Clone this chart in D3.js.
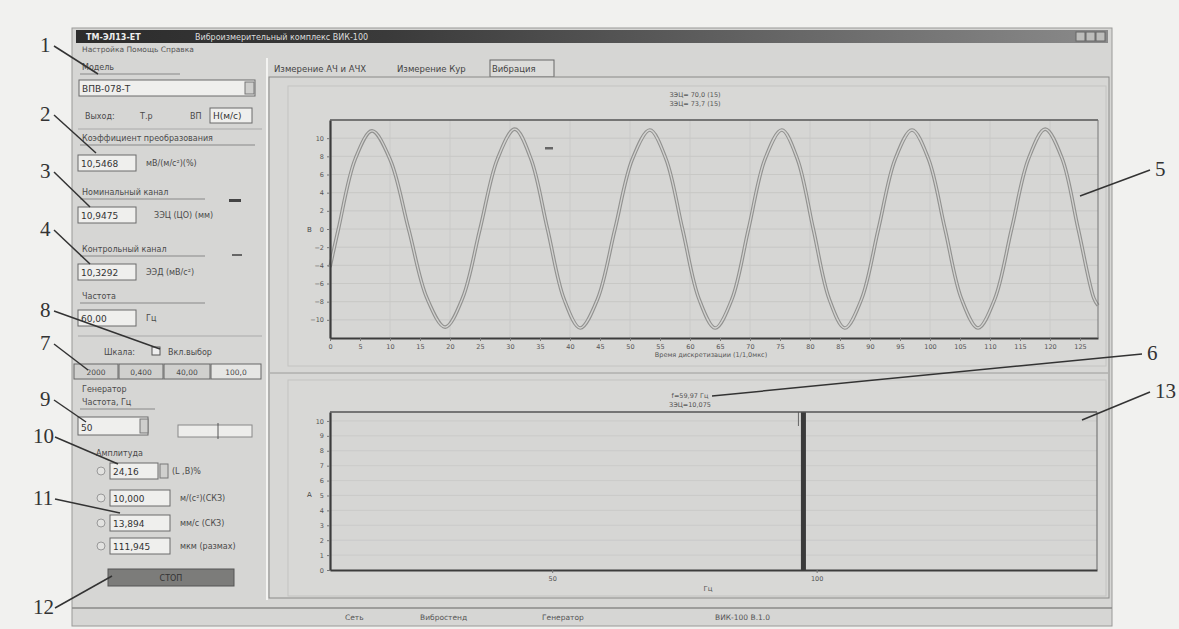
<!DOCTYPE html>
<html>
<head>
<meta charset="utf-8">
<script src="https://cdn.jsdelivr.net/npm/d3@7"></script>
<style>
  body { margin: 0; background: #eeeeec; }
  svg { display: block; font-family: "DejaVu Sans", sans-serif; }
</style>
</head>
<body>
<svg id="scr" width="1179" height="629"></svg>
<script>
// ---- data ----

// upper oscillogram: sample time vs signal (extrema, zero crossings, 0.7-level points)
const traceX = [0, 1.4, 4.2, 7, 10.05, 13.1, 16.15, 19.2, 22.1, 25, 27.9, 30.8, 33.5, 36.25, 39, 41.7,
  44.6, 47.5, 50.4, 53.3, 56, 58.75, 61.5, 64.2, 67, 69.75, 72.5, 75.3, 77.9, 80.55, 83.2, 85.8,
  88.6, 91.4, 94.2, 97, 99.75, 102.5, 105.25, 108, 110.8, 113.6, 116.4, 119.2, 122, 124.7, 127.3, 128];
const traceY = [-4.2, 0, 7.7, 10.8, 7.6, 0, -7.6, -10.8, -7.6, 0, 7.7, 11, 7.7, 0, -7.7, -10.9,
  -7.7, 0, 7.7, 10.9, 7.7, 0, -7.7, -10.9, -7.7, 0, 7.7, 10.9, 7.7, 0, -7.7, -10.9,
  -7.7, 0, 7.7, 10.9, 7.7, 0, -7.7, -10.9, -7.7, 0, 7.7, 11, 7.8, 0, -7.6, -8.4];
const upperXTicks = d3.range(0, 130, 5);
const upperYTicks = [-10, -8, -6, -4, -2, 0, 2, 4, 6, 8, 10];

// lower spectrum: frequency vs amplitude (single line)
const specHz = [97.5];
const specAmp = [10.6];
const lowerXTicks = [50, 100];
const lowerYTicks = [0, 1, 2, 3, 4, 5, 6, 7, 8, 9, 10];

// left panel readings
const fieldValues = ["10,5468", "10,9475", "10,3292", "60,00"];
const fieldUnits = ["мВ/(м/с²)(%)", "ЗЭЦ (ЦО) (мм)", "ЭЭД (мВ/с²)", "Гц"];
const fieldLabels = ["Коэффициент преобразования", "Номинальный канал", "Контрольный канал", "Частота"];
const rangeButtons = ["2000", "0,400", "40,00", "100,0"];
const ampValues = ["24,16", "10,000", "13,894", "111,945"];
const ampUnits = ["(L ,В)%", "м/(с²)(СКЗ)", "мм/с (СКЗ)", "мкм (размах)"];
const tabs = ["Измерение АЧ и АЧХ", "Измерение Кур", "Вибрация"];
const statusItems = ["Сеть", "Вибростенд", "Генератор", "ВИК-100 В.1.0"];

// callout numbers: label, text pos, line end
const callouts = [
  ["1", 40, 52, 98, 74], ["2", 40, 121, 96, 153], ["3", 40, 178, 90, 207],
  ["4", 40, 236, 90, 264], ["8", 40, 317, 160, 349], ["7", 40, 350, 88, 370],
  ["9", 40, 406, 86, 422], ["10", 33, 443, 118, 464], ["11", 33, 505, 120, 513],
  ["12", 33, 614, 112, 576], ["5", 1155, 176, 1080, 196], ["6", 1147, 360, 712, 396],
  ["13", 1155, 398, 1082, 420]
];

const svg = d3.select("#scr");
const ink = "#3c3c3c";

// ---- window frame ----
svg.append("rect").attr("x", 0).attr("y", 0).attr("width", 1179).attr("height", 629).attr("fill", "#f1f1ef");
svg.append("rect").attr("x", 72).attr("y", 28).attr("width", 1040).attr("height", 598)
  .attr("fill", "#d6d6d4").attr("stroke", "#9a9a98");

const grad = svg.append("defs").append("linearGradient").attr("id", "tb");
grad.append("stop").attr("offset", "0%").attr("stop-color", "#2c2c2c");
grad.append("stop").attr("offset", "30%").attr("stop-color", "#3a3a3a");
grad.append("stop").attr("offset", "100%").attr("stop-color", "#8a8a8a");
svg.append("rect").attr("x", 76).attr("y", 30).attr("width", 1032).attr("height", 13).attr("fill", "url(#tb)");
svg.append("text").attr("x", 86).attr("y", 40).attr("fill", "#eee").attr("font-size", 8).attr("font-weight", "bold")
  .text("ТМ-ЭЛ13-ЕТ");
svg.append("text").attr("x", 195).attr("y", 40).attr("fill", "#ddd").attr("font-size", 8)
  .text("Виброизмерительный комплекс ВИК-100");
[1076, 1086, 1096].forEach(x => {
  svg.append("rect").attr("x", x).attr("y", 32).attr("width", 9).attr("height", 9)
    .attr("fill", "#bdbdbb").attr("stroke", "#666");
});
svg.append("text").attr("x", 82).attr("y", 52).attr("fill", "#555").attr("font-size", 7.5)
  .text("Настройка   Помощь   Справка");

// ---- left panel ----
const lp = svg.append("g").attr("fill", "#4a4a4a").attr("font-size", 8);
function box(x, y, w, h, txt) {
  lp.append("rect").attr("x", x).attr("y", y).attr("width", w).attr("height", h)
    .attr("fill", "#efefed").attr("stroke", "#6a6a6a");
  lp.append("text").attr("x", x + 3).attr("y", y + h - 4).attr("font-size", 9).attr("fill", "#333").text(txt);
}
lp.append("text").attr("x", 82).attr("y", 70).text("Модель");
lp.append("line").attr("x1", 80).attr("x2", 180).attr("y1", 74).attr("y2", 74).attr("stroke", "#888");
box(79, 80, 176, 16, "ВПВ-078-Т");
lp.append("rect").attr("x", 245).attr("y", 82).attr("width", 9).attr("height", 12).attr("fill", "#cfcfcd").attr("stroke", "#777");
lp.append("text").attr("x", 85).attr("y", 119).text("Выход:");
lp.append("text").attr("x", 140).attr("y", 119).text("Т.р");
lp.append("text").attr("x", 190).attr("y", 119).text("ВП");
box(210, 108, 42, 15, "Н(м/с)");
lp.append("line").attr("x1", 78).attr("x2", 262).attr("y1", 129).attr("y2", 129).attr("stroke", "#aaa");

const labelY = [141, 195, 252, 299];
const boxY = [155, 207, 264, 310];
fieldValues.forEach((v, i) => {
  lp.append("text").attr("x", 82).attr("y", labelY[i]).text(fieldLabels[i]);
  lp.append("line").attr("x1", 80).attr("x2", i === 0 ? 255 : 205).attr("y1", labelY[i] + 4).attr("y2", labelY[i] + 4).attr("stroke", "#888");
  box(78, boxY[i], 58, 16, v);
  lp.append("text").attr("x", i === 1 ? 154 : 146).attr("y", boxY[i] + 11).text(fieldUnits[i]);
});
lp.append("rect").attr("x", 229).attr("y", 199).attr("width", 12).attr("height", 3).attr("fill", "#444");
lp.append("rect").attr("x", 232).attr("y", 254).attr("width", 10).attr("height", 2).attr("fill", "#666");
lp.append("line").attr("x1", 78).attr("x2", 262).attr("y1", 336).attr("y2", 336).attr("stroke", "#aaa");

lp.append("text").attr("x", 104).attr("y", 355).text("Шкала:");
lp.append("rect").attr("x", 152).attr("y", 347).attr("width", 8).attr("height", 8).attr("fill", "#eee").attr("stroke", "#555");
lp.append("text").attr("x", 168).attr("y", 355).text("Вкл.выбор");
const bw = [44, 44, 46, 50];
let bx = 74;
rangeButtons.forEach((t, i) => {
  lp.append("rect").attr("x", bx).attr("y", 364).attr("width", bw[i]).attr("height", 15)
    .attr("fill", i === 3 ? "#e6e6e4" : "#d0d0ce").attr("stroke", "#666");
  lp.append("text").attr("x", bx + bw[i] / 2).attr("y", 375).attr("text-anchor", "middle").attr("font-size", 7.5).text(t);
  bx += bw[i] + 1;
});
lp.append("text").attr("x", 82).attr("y", 392).text("Генератор");
lp.append("text").attr("x", 82).attr("y", 405).text("Частота, Гц");
lp.append("line").attr("x1", 80).attr("x2", 155).attr("y1", 409).attr("y2", 409).attr("stroke", "#888");
box(78, 417, 70, 18, "50");
lp.append("rect").attr("x", 140).attr("y", 419).attr("width", 8).attr("height", 14).attr("fill", "#cfcfcd").attr("stroke", "#777");
lp.append("rect").attr("x", 178).attr("y", 425).attr("width", 74).attr("height", 12).attr("fill", "#ededeb").attr("stroke", "#888");
lp.append("line").attr("x1", 218).attr("x2", 218).attr("y1", 423).attr("y2", 439).attr("stroke", "#555");
lp.append("text").attr("x", 96).attr("y", 456).text("Амплитуда");

const ampY = [463, 490, 515, 538];
ampValues.forEach((v, i) => {
  const y = ampY[i];
  lp.append("circle").attr("cx", 101).attr("cy", y + 8).attr("r", 4).attr("fill", "#e2e2e0").attr("stroke", "#999");
  box(110, y, i === 0 ? 48 : 60, 16, v);
  lp.append("text").attr("x", i === 0 ? 172 : 180).attr("y", y + 11).text(ampUnits[i]);
});
lp.append("rect").attr("x", 160).attr("y", 464).attr("width", 8).attr("height", 14).attr("fill", "#d0d0ce").attr("stroke", "#777");
lp.append("rect").attr("x", 108).attr("y", 569).attr("width", 126).attr("height", 17).attr("fill", "#7c7c7a").attr("stroke", "#555");
lp.append("text").attr("x", 171).attr("y", 581).attr("text-anchor", "middle").attr("fill", "#333").text("СТОП");
svg.append("line").attr("x1", 267).attr("x2", 267).attr("y1", 58).attr("y2", 600).attr("stroke", "#f3f3f1").attr("stroke-width", 2);

// ---- right panel with tabs ----
const tabX = [272, 395, 490];
const tabW = [120, 92, 64];
tabs.forEach((t, i) => {
  if (i === 2) {
    svg.append("rect").attr("x", tabX[i]).attr("y", 60).attr("width", tabW[i]).attr("height", 17)
      .attr("fill", "#dcdcda").attr("stroke", "#666");
  }
  svg.append("text").attr("x", tabX[i] + 2).attr("y", 72).attr("font-size", 8.5).attr("fill", "#444").text(t);
});
svg.append("rect").attr("x", 269).attr("y", 77).attr("width", 840).attr("height", 521)
  .attr("fill", "#d7d7d5").attr("stroke", "#8a8a88");
svg.append("rect").attr("x", 288).attr("y", 86).attr("width", 818).attr("height", 280)
  .attr("fill", "#d8d8d6").attr("stroke", "#c4c4c2");
svg.append("rect").attr("x", 288).attr("y", 380).attr("width", 818).attr("height", 216)
  .attr("fill", "#d8d8d6").attr("stroke", "#c4c4c2");
svg.append("line").attr("x1", 270).attr("x2", 1108).attr("y1", 373).attr("y2", 373).attr("stroke", "#9c9c9a");

// ---- upper chart ----
const up = { l: 330, r: 1098, t: 120, b: 338 };
const ux = d3.scaleLinear().domain([0, 128]).range([up.l, up.r]);
const uy = d3.scaleLinear().domain([-12, 12]).range([up.b, up.t]);
const gU = svg.append("g");
gU.append("rect").attr("x", up.l).attr("y", up.t).attr("width", up.r - up.l).attr("height", up.b - up.t).attr("fill", "#d6d6d4");
gU.append("g").selectAll("line").data(upperYTicks).join("line")
  .attr("x1", up.l).attr("x2", up.r).attr("y1", d => uy(d)).attr("y2", d => uy(d))
  .attr("stroke", "#c4c4c2").attr("stroke-width", 0.8);
gU.append("g").selectAll("line").data(upperXTicks.filter(d => d % 10 === 0 && d > 0)).join("line")
  .attr("y1", up.t).attr("y2", up.b).attr("x1", d => ux(d)).attr("x2", d => ux(d))
  .attr("stroke", "#c8c8c6").attr("stroke-width", 0.8);

const line = d3.line().x(d => ux(d[0])).y(d => uy(d[1])).curve(d3.curveCatmullRom);
const pts = d3.zip(traceX, traceY);
gU.append("path").datum(pts).attr("d", line).attr("fill", "none").attr("stroke", "#929290").attr("stroke-width", 3.6);
gU.append("path").datum(pts).attr("d", line).attr("fill", "none").attr("stroke", "#d2d2d0").attr("stroke-width", 1.3);

const axU = gU.append("g").attr("transform", `translate(0,${up.b})`)
  .call(d3.axisBottom(ux).tickValues(upperXTicks).tickSize(3).tickSizeOuter(0));
const ayU = gU.append("g").attr("transform", `translate(${up.l},0)`)
  .call(d3.axisLeft(uy).tickValues(upperYTicks).tickSize(3).tickSizeOuter(0));
[axU, ayU].forEach(a => {
  a.select(".domain").attr("stroke", ink).attr("stroke-width", 2.2);
  a.selectAll(".tick line").attr("stroke", "#777");
  a.selectAll("text").attr("font-size", 6.5).attr("fill", "#555").attr("font-family", "DejaVu Sans");
});
gU.append("line").attr("x1", up.l).attr("x2", up.r).attr("y1", up.t).attr("y2", up.t).attr("stroke", "#555").attr("stroke-width", 1.4);
gU.append("line").attr("x1", up.r).attr("x2", up.r).attr("y1", up.t).attr("y2", up.b).attr("stroke", "#777");
gU.append("text").attr("x", 695).attr("y", 97).attr("font-size", 6.5).attr("fill", "#555").attr("text-anchor", "middle").text("ЗЭЦ= 70,0 (15)");
gU.append("text").attr("x", 695).attr("y", 106).attr("font-size", 6.5).attr("fill", "#555").attr("text-anchor", "middle").text("ЗЭЦ= 73,7 (15)");
gU.append("text").attr("x", 307).attr("y", 232).attr("font-size", 7).attr("fill", "#444").text("В");
gU.append("text").attr("x", 711).attr("y", 357).attr("font-size", 6.5).attr("fill", "#555").attr("text-anchor", "middle")
  .text("Время дискретизации (1/1,0мкс)");
gU.append("rect").attr("x", 545).attr("y", 147).attr("width", 8).attr("height", 2.5).attr("fill", "#666");

// ---- lower chart ----
const lo = { l: 330, r: 1097, t: 412, b: 570 };
const lx = d3.scaleLinear().domain([8, 153]).range([lo.l, lo.r]);
const ly = d3.scaleLinear().domain([0, 10.6]).range([lo.b, lo.t]);
const gL = svg.append("g");
gL.append("rect").attr("x", lo.l).attr("y", lo.t).attr("width", lo.r - lo.l).attr("height", lo.b - lo.t).attr("fill", "#d6d6d4");
gL.append("g").selectAll("line").data(lowerYTicks.slice(1)).join("line")
  .attr("x1", lo.l).attr("x2", lo.r).attr("y1", d => ly(d)).attr("y2", d => ly(d))
  .attr("stroke", "#c8c8c6").attr("stroke-width", 0.8);
const sp = d3.zip(specHz, specAmp);
gL.selectAll(".bar").data(sp).join("rect")
  .attr("x", d => lx(d[0]) - 2.5).attr("width", 5).attr("y", d => ly(d[1])).attr("height", d => ly(0) - ly(d[1]))
  .attr("fill", "#3a3a3a");
gL.selectAll(".cur").data(sp).join("line")
  .attr("x1", d => lx(d[0]) - 5).attr("x2", d => lx(d[0]) - 5).attr("y1", lo.t).attr("y2", lo.t + 14)
  .attr("stroke", "#666");
const axL = gL.append("g").attr("transform", `translate(0,${lo.b})`)
  .call(d3.axisBottom(lx).tickValues(lowerXTicks).tickSize(3).tickSizeOuter(0));
const ayL = gL.append("g").attr("transform", `translate(${lo.l},0)`)
  .call(d3.axisLeft(ly).tickValues(lowerYTicks).tickSize(3).tickSizeOuter(0));
[axL, ayL].forEach(a => {
  a.select(".domain").attr("stroke", ink).attr("stroke-width", 2.2);
  a.selectAll(".tick line").attr("stroke", "#777");
  a.selectAll("text").attr("font-size", 6.5).attr("fill", "#555").attr("font-family", "DejaVu Sans");
});
gL.append("line").attr("x1", lo.l).attr("x2", lo.r).attr("y1", lo.t).attr("y2", lo.t).attr("stroke", "#555").attr("stroke-width", 1.4);
gL.append("line").attr("x1", lo.r).attr("x2", lo.r).attr("y1", lo.t).attr("y2", lo.b).attr("stroke", "#666");
gL.append("text").attr("x", 690).attr("y", 398).attr("font-size", 6.5).attr("fill", "#555").attr("text-anchor", "middle").text("f=59,97 Гц");
gL.append("text").attr("x", 690).attr("y", 407).attr("font-size", 6.5).attr("fill", "#555").attr("text-anchor", "middle").text("ЗЭЦ=10,075");
gL.append("text").attr("x", 307).attr("y", 497).attr("font-size", 7).attr("fill", "#444").text("А");
gL.append("text").attr("x", 708).attr("y", 591).attr("font-size", 7).attr("fill", "#555").attr("text-anchor", "middle").text("Гц");

// ---- status bar ----
svg.append("line").attr("x1", 72).attr("x2", 1112).attr("y1", 608).attr("y2", 608).attr("stroke", "#8a8a88").attr("stroke-width", 1.5);
const stX = [345, 420, 542, 715];
statusItems.forEach((t, i) => {
  svg.append("text").attr("x", stX[i]).attr("y", 620).attr("font-size", 7.5).attr("fill", "#555").text(t);
});

// ---- callouts ----
const gc = svg.append("g");
gc.selectAll("line").data(callouts).join("line")
  .attr("x1", d => d[1] < 600 ? d[1] + (d[0].length > 1 ? 22 : 14) : d[1] - 5)
  .attr("y1", d => d[2] - 6).attr("x2", d => d[3]).attr("y2", d => d[4])
  .attr("stroke", "#333").attr("stroke-width", 1.5);
gc.selectAll("text").data(callouts).join("text")
  .attr("x", d => d[1]).attr("y", d => d[2]).attr("font-family", "Liberation Serif")
  .attr("font-size", 21).attr("fill", "#333").text(d => d[0]);
</script>
</body>
</html>
